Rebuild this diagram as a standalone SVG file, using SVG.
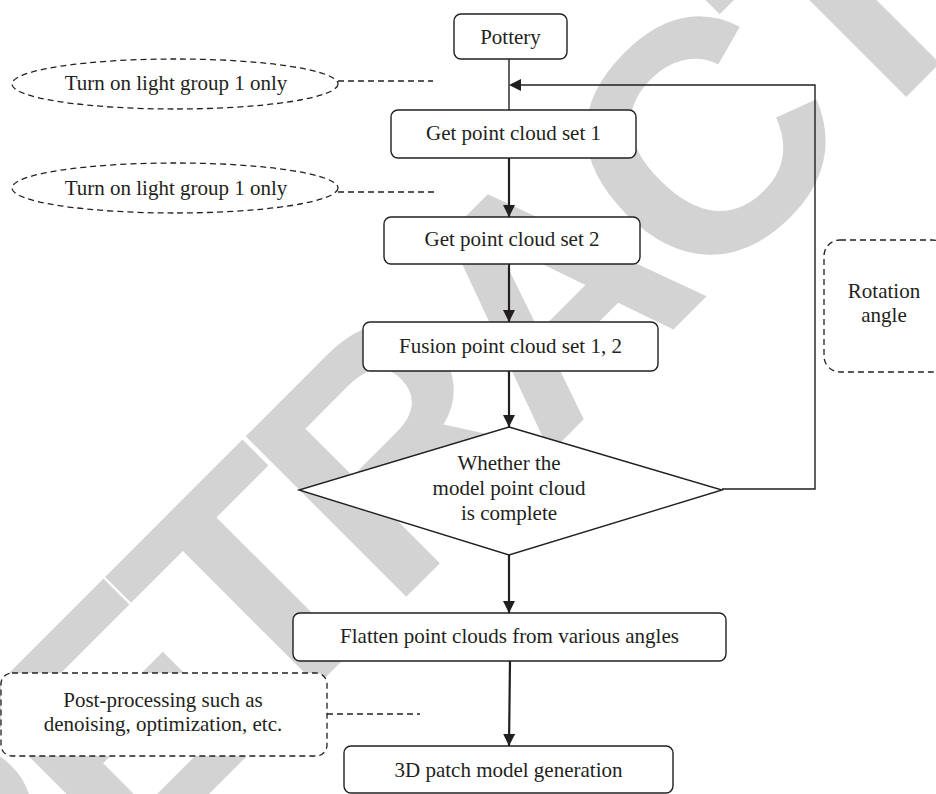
<svg xmlns="http://www.w3.org/2000/svg" width="936" height="794" viewBox="0 0 936 794">
<style>
.box{fill:#fff;stroke:#231f20;stroke-width:1.4}
.note{fill:#fff;stroke:#231f20;stroke-width:1.3;stroke-dasharray:6 4}
.dash{fill:none;stroke:#231f20;stroke-width:1.3;stroke-dasharray:6 4}
.arrow{fill:none;stroke:#231f20;stroke-width:2.2;marker-end:url(#ah)}
.thin{fill:none;stroke:#231f20;stroke-width:1.4}
text{font-family:"Liberation Serif","Times New Roman",serif;font-size:21px;fill:#231f20;text-anchor:middle}
text.wm{font-family:"Liberation Sans",Arial,sans-serif;font-weight:bold;font-size:330px;fill:#d3d3d3;text-anchor:start;letter-spacing:-21px}
</style>
<defs>
<marker id="ah" viewBox="0 0 12 12" refX="12" refY="6" markerWidth="12" markerHeight="12" markerUnits="userSpaceOnUse" orient="auto">
<path d="M0,0 L12,6 L0,12 Z" fill="#231f20"/>
</marker>
</defs>
<rect width="936" height="794" fill="#fff"/>
<text class="wm" transform="translate(-31.5,1034.5) rotate(-45)">RETRACTED</text>
<g id="connectors">
<line class="thin" x1="509" y1="59" x2="509" y2="110"/>
<polyline class="thin" points="722,489 815,489 815,85 521,85"/>
<path d="M509,85 L521,79 L521,91 Z" fill="#231f20"/>
<line class="arrow" x1="509" y1="158" x2="509" y2="217"/>
<line class="arrow" x1="509" y1="264" x2="509" y2="322"/>
<line class="arrow" x1="509" y1="371" x2="509" y2="427"/>
<line class="arrow" x1="509" y1="555" x2="509" y2="613"/>
<line class="arrow" x1="510" y1="661" x2="509" y2="746"/>
<line class="dash" x1="338" y1="81" x2="433" y2="81"/>
<line class="dash" x1="338" y1="192" x2="437" y2="192"/>
<line class="dash" x1="327" y1="714" x2="420" y2="714"/>
</g>
<g id="pottery"><rect class="box" x="454" y="14" width="113" height="45" rx="7"/><text x="510.5" y="44">Pottery</text></g>
<g id="light1"><ellipse class="note" cx="175" cy="84" rx="163" ry="25"/><text x="176" y="90">Turn on light group 1 only</text></g>
<g id="set1"><rect class="box" x="391" y="110" width="245" height="48" rx="7"/><text x="513.5" y="140">Get point cloud set 1</text></g>
<g id="light2"><ellipse class="note" cx="175" cy="188" rx="163" ry="25"/><text x="176" y="195">Turn on light group 1 only</text></g>
<g id="set2"><rect class="box" x="384" y="217" width="256" height="47" rx="7"/><text x="512" y="246">Get point cloud set 2</text></g>
<g id="fusion"><rect class="box" x="363" y="322" width="295" height="49" rx="7"/><text x="510.5" y="353">Fusion point cloud set 1, 2</text></g>
<g id="decision"><polygon class="box" points="509,427 722,490 509,555 299,490"/>
<text x="509" y="470">Whether the</text><text x="509" y="495">model point cloud</text><text x="509" y="520">is complete</text></g>
<g id="rotation"><rect class="note" x="824" y="240" width="124" height="132" rx="16"/><text x="884" y="298">Rotation</text><text x="884" y="322">angle</text></g>
<g id="flatten"><rect class="box" x="293" y="613" width="433" height="48" rx="7"/><text x="509.5" y="643">Flatten point clouds from various angles</text></g>
<g id="post"><rect class="note" x="1" y="673" width="326" height="83" rx="11"/><text x="163" y="707">Post-processing such as</text><text x="163" y="731">denoising, optimization, etc.</text></g>
<g id="model"><rect class="box" x="344" y="746" width="329" height="47" rx="7"/><text x="508.5" y="777">3D patch model generation</text></g>
</svg>
